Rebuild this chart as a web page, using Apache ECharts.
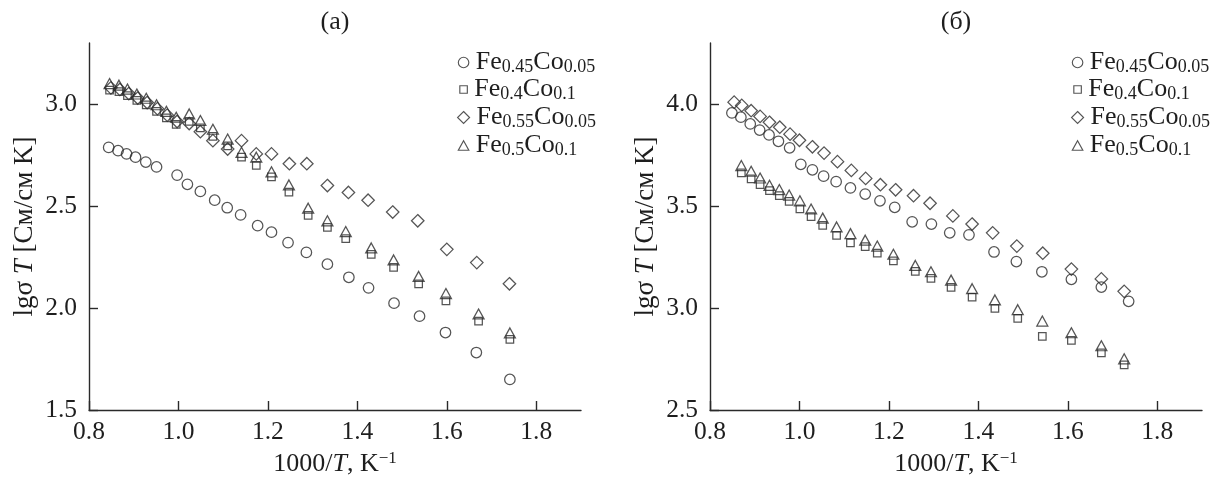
<!DOCTYPE html>
<html>
<head>
<meta charset="utf-8">
<script src="https://cdn.jsdelivr.net/npm/echarts@6.0.0/dist/echarts.min.js"></script>
<style>
  html, body { margin: 0; padding: 0; background: #fff; }
  #chart { width: 1221px; height: 482px; }
</style>
</head>
<body>
<div id="chart"></div>
<script>
// Sample compositions (legend names)
const sampleNames = ['Fe0.45Co0.05', 'Fe0.4Co0.1', 'Fe0.55Co0.05', 'Fe0.5Co0.1'];
const sampleSymbols = ['circle', 'rect', 'diamond', 'triangle'];

// Axis ticks
const xTicks = [0.8, 1.0, 1.2, 1.4, 1.6, 1.8];
const yTicksA = [1.5, 2.0, 2.5, 3.0];
const yTicksB = [2.5, 3.0, 3.5, 4.0];

// Panel (а): 1000/T and lg(σT)
const aFe045Co005X = [0.844, 0.865, 0.884, 0.904, 0.927, 0.951, 0.997, 1.020, 1.049, 1.081, 1.109, 1.139, 1.177, 1.208, 1.245, 1.286, 1.333, 1.381, 1.425, 1.482, 1.539, 1.597, 1.666, 1.741];
const aFe045Co005Y = [2.788, 2.772, 2.756, 2.740, 2.716, 2.692, 2.652, 2.607, 2.572, 2.529, 2.492, 2.457, 2.404, 2.372, 2.321, 2.273, 2.215, 2.151, 2.099, 2.024, 1.960, 1.880, 1.782, 1.650];

const aFe04Co01X = [0.846, 0.867, 0.886, 0.907, 0.928, 0.951, 0.973, 0.995, 1.024, 1.049, 1.077, 1.110, 1.141, 1.174, 1.208, 1.247, 1.290, 1.333, 1.374, 1.431, 1.481, 1.537, 1.598, 1.671, 1.741];
const aFe04Co01Y = [3.069, 3.061, 3.042, 3.018, 2.997, 2.965, 2.933, 2.901, 2.915, 2.884, 2.842, 2.795, 2.740, 2.700, 2.644, 2.569, 2.454, 2.396, 2.340, 2.263, 2.199, 2.119, 2.035, 1.936, 1.846];

const aFe055Co005X = [0.849, 0.869, 0.889, 0.909, 0.930, 0.953, 0.975, 0.997, 1.024, 1.049, 1.077, 1.110, 1.141, 1.174, 1.208, 1.248, 1.287, 1.333, 1.380, 1.424, 1.479, 1.535, 1.600, 1.667, 1.740];
const aFe055Co005Y = [3.080, 3.072, 3.052, 3.030, 3.008, 2.978, 2.946, 2.915, 2.905, 2.865, 2.821, 2.780, 2.821, 2.756, 2.756, 2.708, 2.708, 2.601, 2.567, 2.529, 2.471, 2.428, 2.288, 2.223, 2.119];

const aFe05Co01X = [0.846, 0.867, 0.886, 0.907, 0.928, 0.951, 0.973, 0.995, 1.024, 1.049, 1.077, 1.110, 1.141, 1.174, 1.208, 1.247, 1.290, 1.333, 1.374, 1.431, 1.481, 1.537, 1.598, 1.671, 1.741];
const aFe05Co01Y = [3.101, 3.093, 3.074, 3.050, 3.029, 2.997, 2.965, 2.936, 2.952, 2.920, 2.877, 2.829, 2.764, 2.740, 2.668, 2.604, 2.490, 2.428, 2.375, 2.295, 2.236, 2.155, 2.071, 1.971, 1.878];

// Panel (б)
const bFe045Co005X = [0.849, 0.869, 0.890, 0.911, 0.932, 0.953, 0.978, 1.003, 1.029, 1.054, 1.082, 1.114, 1.147, 1.180, 1.213, 1.252, 1.295, 1.336, 1.379, 1.435, 1.485, 1.542, 1.608, 1.675, 1.736];
const bFe045Co005Y = [3.957, 3.936, 3.903, 3.873, 3.849, 3.818, 3.786, 3.705, 3.678, 3.647, 3.620, 3.589, 3.559, 3.526, 3.494, 3.423, 3.412, 3.369, 3.359, 3.275, 3.228, 3.178, 3.141, 3.103, 3.033];

const bFe04Co01X = [0.870, 0.892, 0.912, 0.933, 0.955, 0.977, 1.001, 1.026, 1.052, 1.083, 1.114, 1.147, 1.174, 1.210, 1.259, 1.294, 1.339, 1.386, 1.437, 1.488, 1.543, 1.608, 1.675, 1.726];
const bFe04Co01Y = [3.663, 3.634, 3.605, 3.576, 3.552, 3.523, 3.486, 3.449, 3.406, 3.357, 3.320, 3.301, 3.269, 3.232, 3.180, 3.145, 3.101, 3.054, 2.998, 2.950, 2.861, 2.842, 2.780, 2.721];

const bFe055Co005X = [0.854, 0.871, 0.892, 0.912, 0.933, 0.956, 0.979, 1.000, 1.029, 1.055, 1.085, 1.116, 1.148, 1.181, 1.215, 1.255, 1.292, 1.343, 1.386, 1.432, 1.486, 1.544, 1.608, 1.675, 1.726];
const bFe055Co005Y = [4.010, 3.994, 3.968, 3.940, 3.911, 3.887, 3.853, 3.823, 3.791, 3.760, 3.718, 3.675, 3.636, 3.605, 3.580, 3.551, 3.514, 3.452, 3.412, 3.369, 3.304, 3.269, 3.191, 3.143, 3.082];

const bFe05Co01X = [0.870, 0.892, 0.912, 0.933, 0.955, 0.977, 1.001, 1.026, 1.052, 1.083, 1.114, 1.147, 1.174, 1.210, 1.259, 1.294, 1.339, 1.386, 1.437, 1.488, 1.543, 1.608, 1.675, 1.726];
const bFe05Co01Y = [3.699, 3.671, 3.638, 3.602, 3.581, 3.554, 3.526, 3.486, 3.441, 3.398, 3.365, 3.333, 3.304, 3.264, 3.209, 3.178, 3.137, 3.095, 3.040, 2.992, 2.936, 2.879, 2.815, 2.751];

const panelA = [[aFe045Co005X, aFe045Co005Y], [aFe04Co01X, aFe04Co01Y], [aFe055Co005X, aFe055Co005Y], [aFe05Co01X, aFe05Co01Y]];
const panelB = [[bFe045Co005X, bFe045Co005Y], [bFe04Co01X, bFe04Co01Y], [bFe055Co005X, bFe055Co005Y], [bFe05Co01X, bFe05Co01Y]];

const FONT = '"Liberation Serif", "DejaVu Serif", serif';
const INK = '#1e1e1e';
const MARK = '#2a2a2a';
const symbolSizes = [10.5, 7.5, 12.5, [11, 10]];

const zip = (xs, ys) => xs.map((x, i) => [x, ys[i]]);

const chart = echarts.init(document.getElementById('chart'), null, { renderer: 'canvas' });

function xAxisFor(gridIndex) {
  return {
    type: 'value', gridIndex, min: 0.8, max: 1.9, interval: 0.2,
    name: '{n|1000/}{i|T}{n|, K}{sup|−1}',
    nameLocation: 'middle', nameGap: 40,
    nameTextStyle: {
      rich: {
        n: { fontFamily: FONT, fontSize: 26, color: INK, lineHeight: 28 },
        i: { fontFamily: FONT, fontSize: 26, color: INK, fontStyle: 'italic', lineHeight: 28 },
        sup: { fontFamily: FONT, fontSize: 17, color: INK, verticalAlign: 'top', lineHeight: 17 }
      }
    },
    axisLine: { show: true, lineStyle: { color: MARK, width: 1.4 } },
    axisTick: { show: true, inside: true, length: 9, lineStyle: { color: MARK, width: 1.4 }, customValues: xTicks },
    axisLabel: {
      show: true, margin: 9, fontFamily: FONT, fontSize: 25.5, color: INK,
      customValues: xTicks, formatter: v => v.toFixed(1)
    },
    splitLine: { show: false }
  };
}

function yAxisFor(gridIndex, ticks, min, max) {
  return {
    type: 'value', gridIndex, min, max, interval: 0.5,
    name: '{n|lgσ }{i|T}{n| [См/см K]}',
    nameLocation: 'middle', nameGap: 50, nameRotate: 90,
    nameTextStyle: {
      rich: {
        n: { fontFamily: FONT, fontSize: 27, color: INK, lineHeight: 28 },
        i: { fontFamily: FONT, fontSize: 27, color: INK, fontStyle: 'italic', lineHeight: 28 }
      }
    },
    axisLine: { show: true, lineStyle: { color: MARK, width: 1.4 } },
    axisTick: { show: true, inside: true, length: 9, lineStyle: { color: MARK, width: 1.4 }, customValues: ticks },
    axisLabel: {
      show: true, margin: 12, fontFamily: FONT, fontSize: 25.5, color: INK,
      customValues: ticks, formatter: v => v.toFixed(1)
    },
    splitLine: { show: false }
  };
}

function seriesFor(panel, gridIndex) {
  return panel.map((pair, k) => ({
    type: 'scatter',
    name: sampleNames[k],
    xAxisIndex: gridIndex, yAxisIndex: gridIndex,
    symbol: sampleSymbols[k],
    symbolSize: symbolSizes[k],
    itemStyle: { color: 'rgba(0,0,0,0)', borderColor: MARK, borderWidth: 1.25 },
    emphasis: { disabled: true },
    data: zip(pair[0], pair[1])
  }));
}

// One legend per row so each icon keeps its own size
const legendRows = [62.5, 89.5, 117.5, 145.5];
const legendCenters = [463, 1077];
const legendIcon = [[10.5, 10.5], [7.5, 7.5], [12, 12], [10.5, 9.5]];
const legends = [];
legendCenters.forEach(cx => {
  sampleNames.forEach((nm, k) => {
    legends.push({
      data: [{ name: nm, icon: sampleSymbols[k] }],
      orient: 'vertical',
      left: cx - legendIcon[k][0] / 2,
      top: legendRows[k] - 14,
      padding: 0,
      itemWidth: legendIcon[k][0],
      itemHeight: legendIcon[k][1],
      itemGap: 0,
      selectedMode: false,
      itemStyle: { color: 'rgba(0,0,0,0)', borderColor: MARK, borderWidth: 1.15 },
      formatter: s => s.replace(/(\d+(?:\.\d+)?)/g, '{s|$1}'),
      textStyle: {
        fontFamily: FONT, fontSize: 26, color: INK, lineHeight: 28,
        padding: [0, 0, 0, 2],
        rich: { s: { fontFamily: FONT, fontSize: 18, color: INK, verticalAlign: 'bottom', lineHeight: 12 } }
      }
    });
  });
});

const option = {
  backgroundColor: '#fff',
  animation: false,
  grid: [
    { left: 89, top: 43, width: 492, height: 374 },
    { left: 710, top: 43, width: 492, height: 374 }
  ],
  xAxis: [xAxisFor(0), xAxisFor(1)],
  yAxis: [yAxisFor(0, yTicksA, 1.5, 3.3), yAxisFor(1, yTicksB, 2.5, 4.3)],
  legend: legends,
  graphic: [
    { type: 'text', x: 335, y: 22, style: { text: '(а)', font: '26px ' + FONT, fill: INK, align: 'center', verticalAlign: 'middle' } },
    { type: 'text', x: 956, y: 22, style: { text: '(б)', font: '26px ' + FONT, fill: INK, align: 'center', verticalAlign: 'middle' } }
  ],
  series: [...seriesFor(panelA, 0), ...seriesFor(panelB, 1)]
};

chart.setOption(option);
</script>
</body>
</html>
